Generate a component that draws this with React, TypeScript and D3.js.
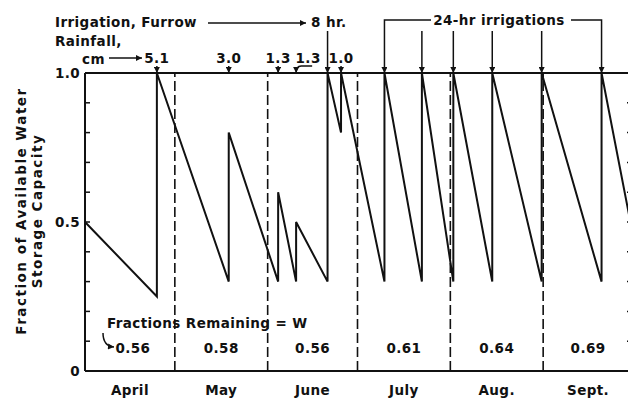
import * as d3 from "d3";
import { useEffect, useRef } from "react";

// months of the season, day 0 = April 1
const months = ["April", "May", "June", "July", "Aug.", "Sept."];
const monthStartDays = [0, 30, 61, 91, 122, 153, 183];
const fractionsRemaining = ["0.56", "0.58", "0.56", "0.61", "0.64", "0.69"];

// soil water: level just before / just after each wetting event
const startLevel = 0.5;
const eventDays = [24, 48, 64.5, 70.5, 81, 85.5, 100, 112.5, 123, 136, 152.5, 172.5];
const levelBefore = [0.25, 0.3, 0.3, 0.3, 0.3, 0.8, 0.3, 0.3, 0.3, 0.3, 0.3, 0.3];
const levelAfter = [1, 0.8, 0.6, 0.5, 1, 1, 1, 1, 1, 1, 1, 1];
const endDay = 186;
const endLevel = 0.3;

const rainDays = [24, 48, 64.5, 70.5, 85.5];
const rainLabels = ["5.1", "3.0", "1.3", "1.3", "1.0"];
const furrowDay = 81;
const irrigationDays = [100, 112.5, 123, 136, 152.5, 172.5];
const yTickLabels = [0, 0.5, 1];

const W = 628;
const H = 400;
const FONT = "'DejaVu Sans', 'Open Sans', sans-serif";
const INK = "#111";

const App = () => {
  const ref = useRef<SVGSVGElement>(null);

  useEffect(() => {
    const svg = d3.select(ref.current);
    svg.selectAll("*").remove();

    const x = d3.scaleLinear().domain([0, 183]).range([85, 633]);
    const y = d3.scaleLinear().domain([0, 1]).range([371, 73]);

    // arrowhead
    svg
      .append("defs")
      .append("marker")
      .attr("id", "head")
      .attr("viewBox", "0 0 10 10")
      .attr("refX", 10)
      .attr("refY", 5)
      .attr("markerWidth", 7)
      .attr("markerHeight", 6)
      .attr("markerUnits", "userSpaceOnUse")
      .attr("orient", "auto")
      .append("path")
      .attr("d", "M0,0 L10,5 L0,10 z")
      .attr("fill", INK);

    const g = svg.append("g");

    // frame
    g.append("line")
      .attr("x1", x(0)).attr("x2", x(0))
      .attr("y1", y(0)).attr("y2", y(1))
      .attr("stroke", INK).attr("stroke-width", 2);
    g.append("line")
      .attr("x1", x(183)).attr("x2", x(183))
      .attr("y1", y(0)).attr("y2", y(1))
      .attr("stroke", INK).attr("stroke-width", 2);
    g.append("line")
      .attr("x1", x(0)).attr("x2", x(183))
      .attr("y1", y(0)).attr("y2", y(0))
      .attr("stroke", INK).attr("stroke-width", 2);
    g.append("line")
      .attr("x1", x(0)).attr("x2", x(183))
      .attr("y1", y(1)).attr("y2", y(1))
      .attr("stroke", INK).attr("stroke-width", 2);

    // inward ticks every 0.1
    const minor = d3.range(1, 10).map((i) => i / 10);
    g.selectAll("line.tl")
      .data(minor)
      .join("line")
      .attr("class", "tl")
      .attr("x1", x(0)).attr("x2", x(0) + 5)
      .attr("y1", (d) => y(d)).attr("y2", (d) => y(d))
      .attr("stroke", INK).attr("stroke-width", 1.5);
    g.selectAll("line.tr")
      .data(minor)
      .join("line")
      .attr("class", "tr")
      .attr("x1", x(183)).attr("x2", x(183) - 6)
      .attr("y1", (d) => y(d)).attr("y2", (d) => y(d))
      .attr("stroke", INK).attr("stroke-width", 1.5);

    g.selectAll("text.yl")
      .data(yTickLabels)
      .join("text")
      .attr("class", "yl")
      .attr("x", x(0) - 5)
      .attr("y", (d) => y(d))
      .attr("dy", "0.35em")
      .attr("text-anchor", "end")
      .text((d) => (d === 0 ? "0" : d.toFixed(1)));

    // month dividers
    g.selectAll("line.md")
      .data(monthStartDays.slice(1, -1))
      .join("line")
      .attr("class", "md")
      .attr("x1", (d) => x(d)).attr("x2", (d) => x(d))
      .attr("y1", y(0)).attr("y2", y(1))
      .attr("stroke", INK).attr("stroke-width", 1.6)
      .attr("stroke-dasharray", "10,4");

    // month names and fractions remaining
    const mid = (i: number) => (x(monthStartDays[i]) + x(monthStartDays[i + 1])) / 2;
    g.selectAll("text.mn")
      .data(months)
      .join("text")
      .attr("class", "mn")
      .attr("x", (_, i) => mid(i))
      .attr("y", 395)
      .attr("text-anchor", "middle")
      .text((d) => d);
    g.selectAll("text.fr")
      .data(fractionsRemaining)
      .join("text")
      .attr("class", "fr")
      .attr("x", (_, i) => mid(i) + (i === 0 ? 3 : 0))
      .attr("y", 353)
      .attr("text-anchor", "middle")
      .text((d) => d);
    g.append("text")
      .attr("x", 107)
      .attr("y", 328)
      .text("Fractions Remaining = W");
    g.append("path")
      .attr("d", "M103,333 Q103,346 114,347")
      .attr("fill", "none")
      .attr("stroke", INK)
      .attr("stroke-width", 1.5)
      .attr("marker-end", "url(#head)");

    // water level sawtooth
    const pts: [number, number][] = [[0, startLevel]];
    eventDays.forEach((d, i) => {
      pts.push([d, levelBefore[i]]);
      pts.push([d, levelAfter[i]]);
    });
    pts.push([endDay, endLevel]);
    g.append("path")
      .datum(pts)
      .attr("d", d3.line<[number, number]>().x((d) => x(d[0])).y((d) => y(d[1])))
      .attr("fill", "none")
      .attr("stroke", INK)
      .attr("stroke-width", 2)
      .attr("stroke-linejoin", "miter");

    // rainfall labels
    g.append("text").attr("x", 55).attr("y", 46).text("Rainfall,");
    g.append("text").attr("x", 82).attr("y", 64).text("cm");
    g.append("line")
      .attr("x1", 109).attr("x2", 142)
      .attr("y1", 58).attr("y2", 58)
      .attr("stroke", INK).attr("stroke-width", 1.3)
      .attr("marker-end", "url(#head)");

    let prevLabel = -Infinity;
    rainDays.forEach((d, i) => {
      const ax = x(d);
      const lx = Math.max(ax, prevLabel + 30);
      prevLabel = lx;
      g.append("text")
        .attr("x", lx)
        .attr("y", 63)
        .attr("text-anchor", "middle")
        .text(rainLabels[i]);
      if (lx - ax > 3) {
        g.append("path")
          .attr("d", `M${lx + 4},66 L${ax + 5},66 Q${ax},66 ${ax},${y(1)}`)
          .attr("fill", "none")
          .attr("stroke", INK)
          .attr("stroke-width", 1.5)
          .attr("marker-end", "url(#head)");
      } else {
        g.append("line")
          .attr("x1", ax).attr("x2", ax)
          .attr("y1", 66).attr("y2", y(1))
          .attr("stroke", INK).attr("stroke-width", 1.5)
          .attr("marker-end", "url(#head)");
      }
    });

    // irrigation labels
    g.append("text").attr("x", 55).attr("y", 27).text("Irrigation, Furrow");
    g.append("line")
      .attr("x1", 208).attr("x2", 306)
      .attr("y1", 23).attr("y2", 23)
      .attr("stroke", INK).attr("stroke-width", 1.3)
      .attr("marker-end", "url(#head)");
    g.append("text").attr("x", 311).attr("y", 27).text("8 hr.");
    g.append("line")
      .attr("x1", x(furrowDay)).attr("x2", x(furrowDay))
      .attr("y1", 31).attr("y2", y(1))
      .attr("stroke", INK).attr("stroke-width", 1.5)
      .attr("marker-end", "url(#head)");

    const first = x(irrigationDays[0]);
    const last = x(irrigationDays[irrigationDays.length - 1]);
    g.append("text")
      .attr("x", (first + last) / 2 + 6)
      .attr("y", 25)
      .attr("text-anchor", "middle")
      .text("24-hr irrigations");
    g.append("path")
      .attr("d", `M431,20 L${first},20 L${first},${y(1)}`)
      .attr("fill", "none")
      .attr("stroke", INK).attr("stroke-width", 1.5)
      .attr("marker-end", "url(#head)");
    g.append("path")
      .attr("d", `M571,20 L${last},20 L${last},${y(1)}`)
      .attr("fill", "none")
      .attr("stroke", INK).attr("stroke-width", 1.5)
      .attr("marker-end", "url(#head)");
    g.selectAll("line.ir")
      .data(irrigationDays.slice(1, -1))
      .join("line")
      .attr("class", "ir")
      .attr("x1", (d) => x(d)).attr("x2", (d) => x(d))
      .attr("y1", 31).attr("y2", y(1))
      .attr("stroke", INK).attr("stroke-width", 1.5)
      .attr("marker-end", "url(#head)");

    // y axis title
    const title = g
      .append("text")
      .attr("class", "yt")
      .attr("transform", "translate(26,211) rotate(-90)")
      .attr("text-anchor", "middle");
    title.append("tspan").attr("x", 0).attr("y", 0).text("Fraction of Available Water");
    title.append("tspan").attr("x", 0).attr("y", 16).text("Storage Capacity");

    g.selectAll("text")
      .attr("font-family", FONT)
      .attr("font-weight", 700)
      .attr("font-size", 13.5)
      .attr("letter-spacing", 0.4)
      .attr("fill", INK);
    g.select("text.yt").attr("letter-spacing", 1.5);
  }, []);

  return (
    <svg
      ref={ref}
      width={W}
      height={H}
      style={{ position: "fixed", left: 0, top: 0, background: "#fff" }}
    />
  );
};

export default App;
